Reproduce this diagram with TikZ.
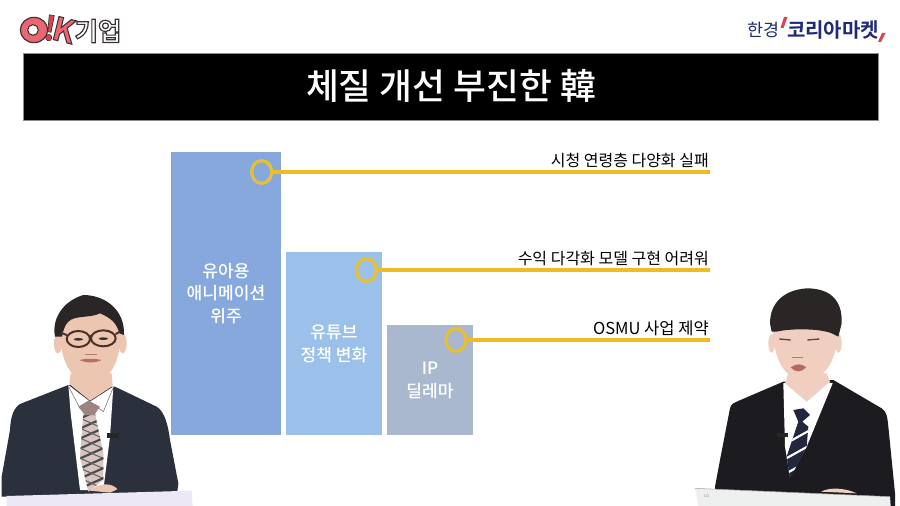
\documentclass[tikz,border=0pt]{standalone}
\usepackage{fontspec}
\setmainfont{Noto Sans CJK KR}
\newfontfamily\kr{Noto Sans CJK KR}
\newfontfamily\krb{Noto Sans CJK KR Bold}
\newfontfamily\krm{Noto Sans CJK KR Medium}
\newcommand{\outlinedtext}[2]{\special{pdf:code q 2 Tr #1 w 0.23 0.20 0.22 RG}#2\special{pdf:code Q}}
\definecolor{barA}{HTML}{86A8DC}
\definecolor{barB}{HTML}{9BC0EA}
\definecolor{barC}{HTML}{A9B8CF}
\definecolor{gold}{HTML}{F0BC20}
\definecolor{ring}{HTML}{E6C035}
\definecolor{navy}{HTML}{1F2A78}
\definecolor{slashred}{HTML}{D9434E}
\definecolor{okpink}{HTML}{EC6672}
\definecolor{okdark}{HTML}{3A3438}
\definecolor{skin}{HTML}{EDC6B2}
\definecolor{skinB}{HTML}{F0CFC0}
\definecolor{hair}{HTML}{2A2626}
\definecolor{suitL}{HTML}{2A303C}
\definecolor{suitR}{HTML}{1C1C20}
\definecolor{laptopL}{HTML}{EDE8F5}
\definecolor{laptopR}{HTML}{EEF0F0}
\definecolor{tieL}{HTML}{D8C4C0}
\definecolor{knotL}{HTML}{9E8480}
\definecolor{tieR}{HTML}{22263E}
\definecolor{frame}{HTML}{4A3028}
\definecolor{nose}{HTML}{B07F6A}
\definecolor{lipL}{HTML}{B86E62}
\definecolor{lipR}{HTML}{B8685E}
\usetikzlibrary{shapes.geometric}
\tikzset{
  barbox/.style={fill=#1,draw=none},
  barlabel/.style={text=white,align=center,font=\krm\fontsize{12.8}{17}\selectfont,inner sep=0pt},
  marker/.style={draw=ring,line width=2.4pt,ellipse,minimum width=15pt,minimum height=17pt,inner sep=0pt},
  leader/.style={draw=gold,line width=2.3pt},
  caption/.style={anchor=east,text=black,font=\kr\fontsize{12}{14}\selectfont,inner sep=0pt},
  zoomscope/.style={x=.25pt,y=-.25pt},
}
\begin{document}
\begin{tikzpicture}[x=.75pt,y=-.75pt]
\useasboundingbox (0,0) rectangle (900,506);
\fill[white] (0,0) rectangle (900,506);
% title
\node[draw=black!45,line width=.4pt,fill=black,minimum width=641pt,minimum height=50pt,inner sep=0pt,anchor=north west] (titlebar) at (23,53) {};
\node[text=white,font=\krm\fontsize{26.8}{30}\selectfont,inner sep=0pt] (title) at (451,85.5) {체질 개선 부진한 韓};
% left logo
\node[draw=okdark,line width=.9pt,ellipse,fill=okpink,minimum width=20.5pt,minimum height=19pt,inner sep=0pt] (okO) at (34,30) {};
\node[draw=okdark,line width=.8pt,circle,fill=white,minimum size=8pt,inner sep=0pt] (okOi) at (33,30) {};
\node[font=\krb\fontsize{24}{24}\selectfont,text=okpink,inner sep=0pt,rotate=-14] (okK) at (64,30) {\outlinedtext{0.8}{K}};
\node[font=\krb\fontsize{25}{25}\selectfont,text=slashred,inner sep=0pt,rotate=-8] (okB) at (50,28) {\outlinedtext{0.5}{!}};
\node[font=\krb\fontsize{19}{20}\selectfont,text=white,inner sep=0pt] (okT) at (98,31) {\outlinedtext{0.9}{기업}};
% right logo
\node[font=\kr\fontsize{13}{14}\selectfont,text=navy,inner sep=0pt] (hk) at (763,30) {한경};
\node[font=\krb\fontsize{15}{16}\selectfont,text=navy,inner sep=0pt] (km) at (833,30) {코리아마켓};
\fill[slashred] (784,17) -- (787.5,17) -- (783.5,28) -- (780.5,28) -- cycle;
\fill[slashred] (882,33) -- (885.5,33) -- (881,42) -- (878,42) -- cycle;
% bars
\fill[barbox=barA] (171,152.3) rectangle (280.7,435);
\fill[barbox=barB] (285.5,251.7) rectangle (382.3,435);
\fill[barbox=barC] (387,325) rectangle (472.5,435);
\node[barlabel] (l1) at (226,293.5) {유아용\\애니메이션\\위주};
\node[barlabel] (l2) at (334,344) {유튜브\\정책 변화};
\node[barlabel] (l3) at (430,380.5) {IP\\딜레마};
% markers and leaders
\node[marker] (m1) at (261.7,172) {};
\node[marker] (m2) at (366.5,270) {};
\node[marker] (m3) at (456,340) {};
\coordinate (e1) at (710,172);
\coordinate (e2) at (710,270);
\coordinate (e3) at (710,340);
\draw[leader] (m1) -- (e1);
\draw[leader] (m2) -- (e2);
\draw[leader] (m3) -- (e3);
\node[caption] (c1) at (709,160.5) {시청 연령층 다양화 실패};
\node[caption] (c2) at (709,258.5) {수익 다각화 모델 구현 어려워};
\node[caption,font=\kr\fontsize{12.4}{14}\selectfont] (c3) at (709,328.5) {OSMU 사업 제약};
% left presenter
\begin{scope}[shift={(0,280)},zoomscope]
\fill[suitL] (5,650) -- (5,590) -- (30,450) .. controls (32,410) and (40,385) .. (60,372) -- (205,315) -- (345,320) -- (470,380) .. controls (495,395) and (505,440) .. (510,480) -- (535,610) -- (530,650) -- cycle;
\fill[white] (205,315) -- (212,400) -- (240,630) -- (310,630) -- (330,470) -- (340,320) -- (270,365) -- cycle;
\fill[skin] (212,280) -- (335,280) -- (338,318) -- (270,362) -- (208,312) -- cycle;
\draw[black!55,line width=.4pt] (205,318) -- (240,385) -- (270,365) -- (310,395) -- (340,322);
\begin{scope}
\clip (250,400) -- (240,530) -- (265,635) -- (310,600) -- (310,520) -- (285,400) -- cycle;
\fill[tieL] (230,395) rectangle (320,640);
\foreach \yy in {390,420,...,660}{\draw[black!70,line width=1.6pt] (230,\yy) -- (320,\yy-40);\draw[black!60,line width=.8pt] (230,\yy-40) -- (320,\yy);}
\end{scope}
\fill[knotL] (235,380) -- (265,362) -- (300,380) -- (283,405) -- (255,405) -- cycle;
\fill[skin] (270,632) .. controls (300,605) and (340,610) .. (352,628) -- (330,638) -- cycle;
\fill[black!85] (320,460) rectangle (358,473);
\fill[skin] (174,190) ellipse (12 and 30);
\fill[skin] (368,190) ellipse (12 and 30);
\fill[skin] (180,130) .. controls (175,240) and (215,308) .. (272,310) .. controls (330,308) and (368,240) .. (362,130) -- (270,70) -- cycle;
\fill[hair] (165,170) .. controls (155,120) and (185,65) .. (250,45) .. controls (310,45) and (375,85) .. (372,165) -- (358,160) .. controls (350,130) and (335,115) .. (300,100) .. controls (270,115) and (225,105) .. (205,125) .. controls (195,135) and (190,150) .. (186,170) -- cycle;
\draw[frame,line width=1.5pt] (235,177) ellipse (35 and 24) (310,175) ellipse (37 and 24) (270,168) -- (274,168) (200,165) -- (182,158) (347,162) -- (360,155);
\fill[black!80] (235,178) ellipse (14 and 4) (310,176) ellipse (14 and 4);
\draw[nose,line width=.6pt] (255,222) -- (290,222);
\fill[lipL] (238,240) .. controls (260,235) and (285,235) .. (305,240) .. controls (285,250) and (260,250) .. (238,240) -- cycle;
\fill[laptopL] (20,648) -- (575,632) -- (578,678) -- (20,678) -- cycle;
\end{scope}
% right presenter
\begin{scope}[shift={(690,280)},zoomscope]
\fill[suitR] (75,678) -- (75,620) -- (90,540) -- (120,385) .. controls (125,370) and (130,370) .. (140,365) -- (280,305) -- (430,300) -- (575,385) .. controls (590,395) and (592,410) .. (595,440) -- (615,640) -- (615,678) -- cycle;
\fill[white] (280,310) -- (285,500) -- (300,590) -- (350,500) -- (428,310) -- (350,290) -- cycle;
\fill[skinB] (295,280) -- (410,280) -- (420,305) -- (350,365) -- (285,310) -- cycle;
\begin{scope}
\clip (310,390) -- (340,385) -- (360,405) -- (337,425) -- (355,440) -- (350,500) -- (300,595) -- (290,530) -- (325,425) -- cycle;
\fill[tieR] (280,380) rectangle (370,600);
\foreach \yy in {470,515,560,600}{\draw[white,line width=1.6pt] (280,\yy+25) -- (370,\yy-25);}
\end{scope}
\fill[black!85] (262,460) rectangle (295,472);
\fill[skinB] (245,190) ellipse (10 and 28);
\fill[skinB] (445,190) ellipse (10 and 28);
\fill[skinB] (248,130) .. controls (248,250) and (290,300) .. (345,300) .. controls (400,300) and (445,250) .. (445,130) -- cycle;
\fill[hair] (240,130) .. controls (240,70) and (280,30) .. (350,25) .. controls (420,25) and (458,60) .. (455,130) -- (445,170) -- (425,160) .. controls (390,145) and (300,145) .. (260,155) -- (245,155) -- cycle;
\draw[black!70,line width=1pt] (268,177) -- (302,180) (352,180) -- (388,177);
\draw[nose,line width=.6pt] (306,232) -- (340,232);
\fill[lipR] (302,262) .. controls (320,250) and (335,250) .. (348,262) .. controls (335,278) and (315,278) .. (302,262) -- cycle;
\fill[skinB] (393,635) .. controls (420,620) and (470,625) .. (500,640) -- cycle;
\fill[laptopR] (15,625) -- (600,650) -- (602,678) -- (25,678) -- cycle;
\draw[black!35,line width=.4pt] (15,625) -- (600,650);
\node[font=\kr\fontsize{3}{3}\selectfont,text=black!50,inner sep=0pt] (lg) at (50,648) {LG};
\end{scope}
\end{tikzpicture}
\end{document}
